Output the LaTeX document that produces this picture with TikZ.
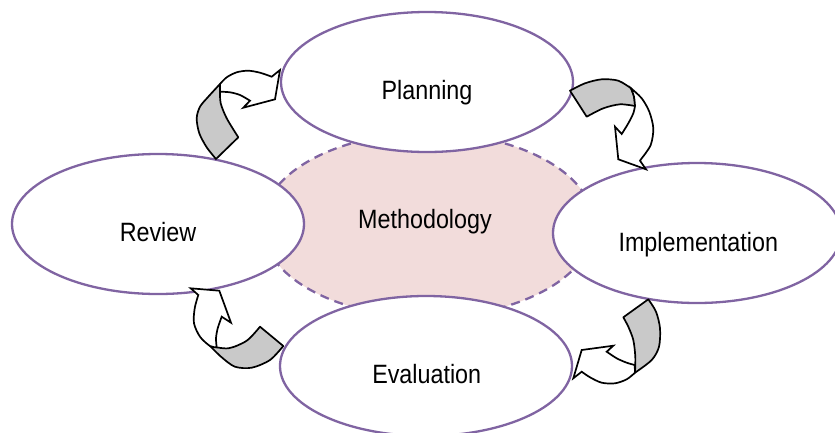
\documentclass[tikz,border=0pt]{standalone}
\usepackage{fontspec}
\setmainfont{Liberation Sans}[FakeStretch=0.88]
\usetikzlibrary{shapes.geometric}
\definecolor{ringpurple}{HTML}{8064A2}
\definecolor{corepink}{HTML}{F2DCDB}
\definecolor{bandgray}{HTML}{C9C9C9}
\tikzset{
  stage/.style={ellipse, draw=ringpurple, fill=white, line width=2.3pt,
    minimum width=292pt, minimum height=140pt, inner sep=0pt},
  core/.style={ellipse, draw=ringpurple, fill=corepink, line width=2.3pt,
    dash pattern=on 9pt off 6pt, minimum width=332pt, minimum height=184pt, inner sep=0pt},
  lbl/.style={anchor=base, inner sep=0pt, font=\fontsize{26.5}{30}\selectfont},
  band/.style={draw=black, fill=bandgray, line width=1.7pt, line join=round},
  shaft/.style={draw=black, fill=white, line width=1.7pt, line join=miter}
}
\begin{document}
\begin{tikzpicture}[x=1pt,y=-1pt]
\useasboundingbox (0,0) rectangle (835,432);
% central ellipse
\node[core] (meth) at (428,225) {};
% outer ellipses
\node[stage] (plan) at (427,82) {};
\node[stage] (rev) at (158,224) {};
\node[stage, minimum width=288pt] (impl) at (697,233) {};
\node[stage] (eval) at (426,366) {};
% labels
\node[lbl] (methT) at (425,228.3) {Methodology};
\node[lbl] (planT) at (427,99.3) {Planning};
\node[lbl] (revT) at (158,241.7) {Review};
\node[lbl] (implT) at (698.3,251.7) {Implementation};
\node[lbl] (evalT) at (426.7,383.3) {Evaluation};
% curved arrow 1: Review -> Planning
\path[band] plot[smooth] coordinates {(220,84) (208.3,96.7) (200,106.7) (196.7,118.3) (199.3,133.3) (206.7,147.3) (216,159)}
  -- plot[smooth] coordinates {(238.3,137.3) (226.7,118.3) (220.7,103.3) (220,91.7)} -- cycle;
\path[shaft] plot[smooth] coordinates {(220,84) (226.7,77.3) (236.7,72.3) (248.3,70.7) (260,72.7) (271.7,76.7)}
  -- (280,70) -- (275,99.3) -- (243.3,107.7) -- (250,100.7)
  -- plot[smooth] coordinates {(250,100.7) (240,95) (230,92.3) (220,91.7)} -- cycle;
% curved arrow 2: Planning -> Implementation
\path[band] plot[smooth] coordinates {(570,90.7) (585,83.3) (601.7,79.3) (618.3,80.7) (631,88.3)}
  -- plot[smooth] coordinates {(631,88.3) (634,96.7) (635,106)}
  -- plot[smooth] coordinates {(635,106) (620,104.3) (603.3,108.3) (586.7,116.7)} -- cycle;
\path[shaft] plot[smooth] coordinates {(631,88.3) (641.7,98.3) (649.3,111.7) (653.3,128.3) (650.7,145) (641.7,158.3)}
  -- (640,160.7) -- (646,169.3) -- (618.3,159.3) -- (615,126.7) -- (621.7,134)
  -- plot[smooth] coordinates {(621.7,134) (628.3,123.3) (633.3,113.3) (635,106)}
  -- plot[smooth] coordinates {(635,106) (634,96.7) (631,88.3)} -- cycle;
% curved arrow 3: Implementation -> Evaluation
\path[band] (623.3,317.3) -- (648.3,299.3)
  -- plot[smooth] coordinates {(648.3,299.3) (656,311.7) (660,328.3) (659,346.7) (651.7,360) (635,372.7)}
  -- plot[smooth] coordinates {(635,372.7) (635.3,356.7) (633.3,340) (628.3,326.7) (623.3,317.3)} -- cycle;
\path[shaft] plot[smooth] coordinates {(635,372.7) (626.7,379.3) (615,383.3) (601.7,382.7) (590,377.3) (581.7,371.7)}
  -- (573.3,378.3) -- (581.7,350) -- (613.3,345.7) -- (606.7,351.7)
  -- plot[smooth] coordinates {(606.7,351.7) (616.7,358.3) (626.7,362.7) (634.7,365)} -- cycle;
% curved arrow 4: Evaluation -> Review
\path[band] plot[smooth] coordinates {(210,346) (228.3,348.3) (246.7,340.7) (260,326.7)}
  -- (283.3,346)
  -- plot[smooth] coordinates {(283.3,346) (270,360) (251.7,367.7) (235,366.7) (221.7,357.3) (210,346)} -- cycle;
\path[shaft] plot[smooth] coordinates {(216.7,347.3) (210,346) (200,336.7) (194,323.3) (194.7,308.3) (198.3,295)}
  -- (190.7,288.3) -- (219.3,290.7) -- (231,322.7) -- (221.7,316.7)
  -- plot[smooth] coordinates {(221.7,316.7) (217.7,328.3) (216,338.3) (216.7,347.3)} -- cycle;
\end{tikzpicture}
\end{document}
